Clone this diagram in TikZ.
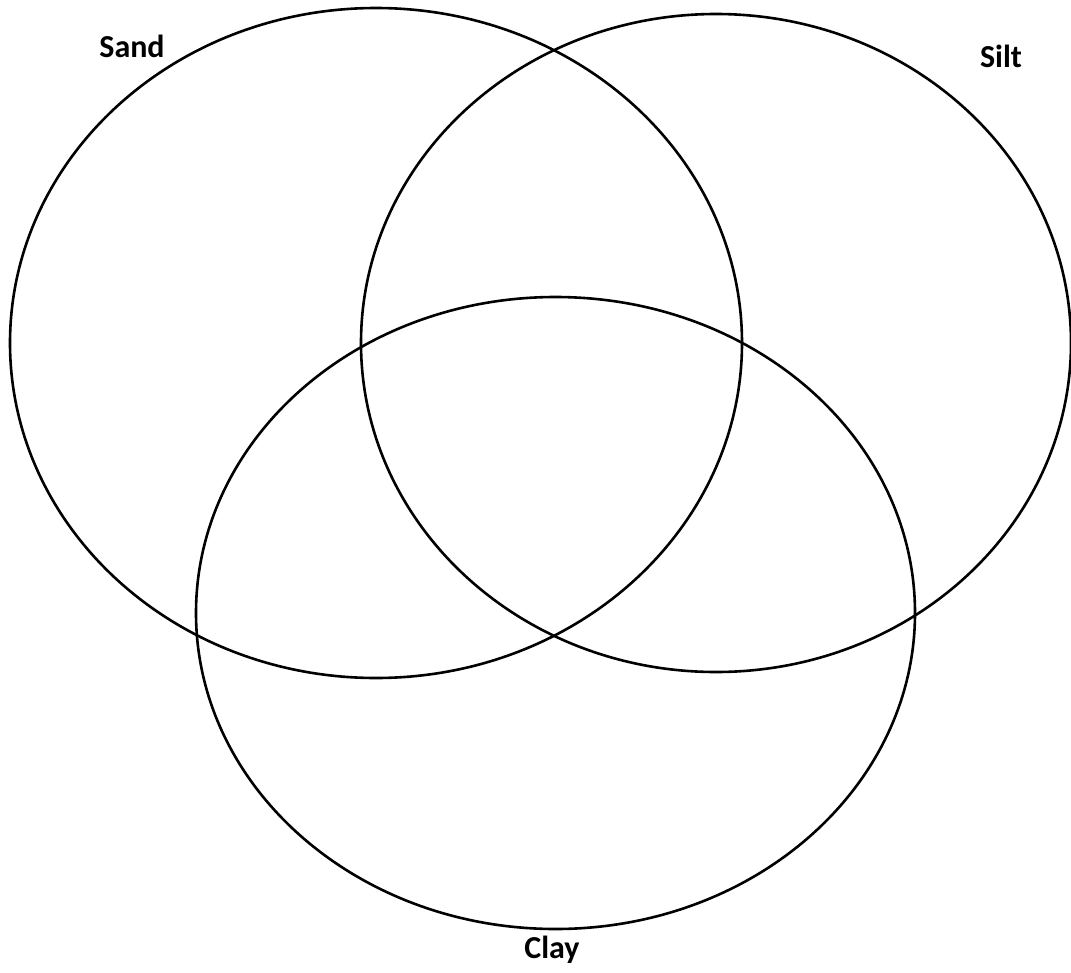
\documentclass[tikz,border=0pt]{standalone}
\usepackage{fontspec}
\setmainfont{Carlito}
\begin{document}
\begin{tikzpicture}[x=1pt,y=-1pt,
  ring/.style={draw=black,line width=2.6pt},
  lbl/.style={font=\fontsize{32}{38}\selectfont\bfseries,inner sep=0pt}]
\useasboundingbox (0,0) rectangle (1071,972);
\draw[ring] (376,343) ellipse [x radius=366,y radius=335];
\draw[ring] (716,343) ellipse [x radius=355,y radius=329];
\draw[ring] (555.5,613) ellipse [x radius=359.5,y radius=316];
\node[lbl] (sand) at (132,46) {Sand};
\node[lbl] (silt) at (1001,56) {Silt};
\node[lbl] (clay) at (552,950) {Clay};
\end{tikzpicture}
\end{document}
